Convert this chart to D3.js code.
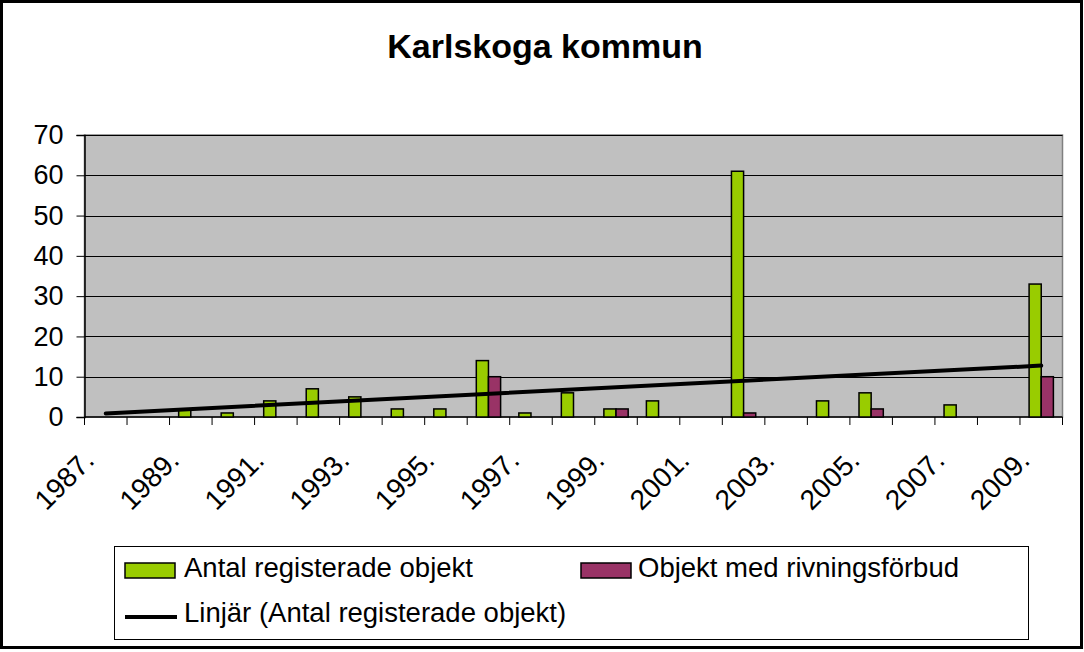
<!DOCTYPE html>
<html>
<head>
<meta charset="utf-8">
<script src="https://cdn.jsdelivr.net/npm/d3@7"></script>
<style>
  body { margin: 0; background: #fff; }
  svg { display: block; font-family: "Liberation Sans", Arial, sans-serif; }
</style>
</head>
<body>
<div id="chart"></div>
<script>
// data
var years = [1987, 1988, 1989, 1990, 1991, 1992, 1993, 1994, 1995, 1996, 1997, 1998,
             1999, 2000, 2001, 2002, 2003, 2004, 2005, 2006, 2007, 2008, 2009];
var antal = [0, 0, 2, 1, 4, 7, 5, 2, 2, 14, 1, 6, 2, 4, 0, 61, 0, 4, 6, 0, 3, 0, 33];
var rivning = [0, 0, 0, 0, 0, 0, 0, 0, 0, 10, 0, 0, 2, 0, 0, 1, 0, 0, 2, 0, 0, 0, 10];
var labelYears = [1987, 1989, 1991, 1993, 1995, 1997, 1999, 2001, 2003, 2005, 2007, 2009];
var yTicks = [0, 10, 20, 30, 40, 50, 60, 70];
var seriesNames = ["Antal registerade objekt", "Objekt med rivningsförbud", "Linjär (Antal registerade objekt)"];

var W = 1084, H = 652;
var plot = {left: 84.5, right: 1062.5, top: 135, bottom: 417};

var svg = d3.select("#chart").append("svg")
    .attr("width", W)
    .attr("height", H);

// outer frame
svg.append("rect")
    .attr("x", 1.5).attr("y", 1.5)
    .attr("width", W - 4).attr("height", H - 6)
    .attr("fill", "#fff")
    .attr("stroke", "#000")
    .attr("stroke-width", 3);

// title
svg.append("text")
    .attr("x", 545).attr("y", 58)
    .attr("text-anchor", "middle")
    .attr("font-size", 34)
    .attr("font-weight", "bold")
    .text("Karlskoga kommun");

// scales
var x = d3.scaleBand().domain(years).range([plot.left, plot.right]).padding(0);
var y = d3.scaleLinear().domain([0, 70]).range([plot.bottom, plot.top]);
var bw = x.bandwidth() / 3.5;

// plot area
svg.append("rect")
    .attr("x", plot.left).attr("y", plot.top)
    .attr("width", plot.right - plot.left).attr("height", plot.bottom - plot.top)
    .attr("fill", "#c0c0c0")
    .attr("stroke", "#808080")
    .attr("stroke-width", 1.5);

// gridlines
svg.append("g").selectAll("line")
    .data(yTicks.filter(function(d) { return d > 0; }))
    .enter().append("line")
    .attr("x1", plot.left).attr("x2", plot.right)
    .attr("y1", function(d) { return Math.round(y(d)) + 0.5; })
    .attr("y2", function(d) { return Math.round(y(d)) + 0.5; })
    .attr("stroke", "#000")
    .attr("stroke-width", 1);

// y axis
var yAxis = svg.append("g")
    .attr("transform", "translate(" + plot.left + ",0)")
    .call(d3.axisLeft(y).tickValues(yTicks).tickSize(8).tickPadding(13).tickFormat(d3.format("d")));
yAxis.select(".domain").attr("stroke", "#000").attr("stroke-width", 1.5);
yAxis.selectAll(".tick line").attr("stroke", "#000");
yAxis.selectAll("text")
    .attr("font-size", 27)
    .attr("font-family", "Liberation Sans, Arial, sans-serif")
    .attr("fill", "#000");

// x axis: ticks at category boundaries
var xa = svg.append("g");
xa.append("line")
    .attr("x1", plot.left).attr("x2", plot.right)
    .attr("y1", plot.bottom).attr("y2", plot.bottom)
    .attr("stroke", "#000").attr("stroke-width", 1.5);
xa.selectAll("line.tk")
    .data(years.concat([null]))
    .enter().append("line")
    .attr("class", "tk")
    .attr("x1", function(d, i) { return plot.left + i * x.step(); })
    .attr("x2", function(d, i) { return plot.left + i * x.step(); })
    .attr("y1", plot.bottom).attr("y2", plot.bottom + 8)
    .attr("stroke", "#000");

xa.selectAll("text")
    .data(labelYears)
    .enter().append("text")
    .attr("transform", function(d) {
        return "translate(" + (x(d) + x.bandwidth() / 2 - 10) + "," + 462 + ")rotate(-45)";
    })
    .attr("text-anchor", "end")
    .attr("font-size", 28)
    .text(function(d) { return d + "."; });

// bars
var rows = years.map(function(d, i) { return {year: d, a: antal[i], r: rivning[i]}; });

svg.append("g").selectAll("rect")
    .data(rows.filter(function(d) { return d.a > 0; }))
    .enter().append("rect")
    .attr("x", function(d) { return x(d.year) + 0.75 * bw; })
    .attr("y", function(d) { return y(d.a); })
    .attr("width", bw)
    .attr("height", function(d) { return y(0) - y(d.a); })
    .attr("fill", "#99cc00")
    .attr("stroke", "#000")
    .attr("stroke-width", 1.5);

svg.append("g").selectAll("rect")
    .data(rows.filter(function(d) { return d.r > 0; }))
    .enter().append("rect")
    .attr("x", function(d) { return x(d.year) + 1.75 * bw; })
    .attr("y", function(d) { return y(d.r); })
    .attr("width", bw)
    .attr("height", function(d) { return y(0) - y(d.r); })
    .attr("fill", "#993366")
    .attr("stroke", "#000")
    .attr("stroke-width", 1.5);

// linear trendline (least squares over the green series, x = 1..n)
var n = antal.length;
var mx = d3.mean(antal, function(d, i) { return i + 1; });
var my = d3.mean(antal);
var sxy = d3.sum(antal, function(d, i) { return (i + 1 - mx) * (d - my); });
var sxx = d3.sum(antal, function(d, i) { return (i + 1 - mx) * (i + 1 - mx); });
var slope = sxy / sxx, icpt = my - slope * mx;

var trend = d3.line()
    .x(function(d) { return x(d) + x.bandwidth() / 2; })
    .y(function(d, i) { return y(icpt + slope * (years.indexOf(d) + 1)); });

svg.append("path")
    .datum([years[0], years[n - 1]])
    .attr("d", trend)
    .attr("fill", "none")
    .attr("stroke", "#000")
    .attr("stroke-width", 4)
    .attr("stroke-linecap", "round");

// legend
var lg = svg.append("g");
lg.append("rect")
    .attr("x", 114.5).attr("y", 546.5)
    .attr("width", 914).attr("height", 93)
    .attr("fill", "#fff")
    .attr("stroke", "#000")
    .attr("stroke-width", 1);

lg.append("rect")
    .attr("x", 125).attr("y", 563).attr("width", 50).attr("height", 15)
    .attr("fill", "#99cc00").attr("stroke", "#000").attr("stroke-width", 1.5);
lg.append("text")
    .attr("x", 184).attr("y", 577)
    .attr("font-size", 27.5)
    .text(seriesNames[0]);

lg.append("rect")
    .attr("x", 581).attr("y", 563).attr("width", 50).attr("height", 15)
    .attr("fill", "#993366").attr("stroke", "#000").attr("stroke-width", 1.5);
lg.append("text")
    .attr("x", 638).attr("y", 577)
    .attr("font-size", 27.5)
    .text(seriesNames[1]);

lg.append("line")
    .attr("x1", 125).attr("x2", 177)
    .attr("y1", 617).attr("y2", 617)
    .attr("stroke", "#000").attr("stroke-width", 4);
lg.append("text")
    .attr("x", 184).attr("y", 622)
    .attr("font-size", 27.5)
    .text(seriesNames[2]);
</script>
</body>
</html>
